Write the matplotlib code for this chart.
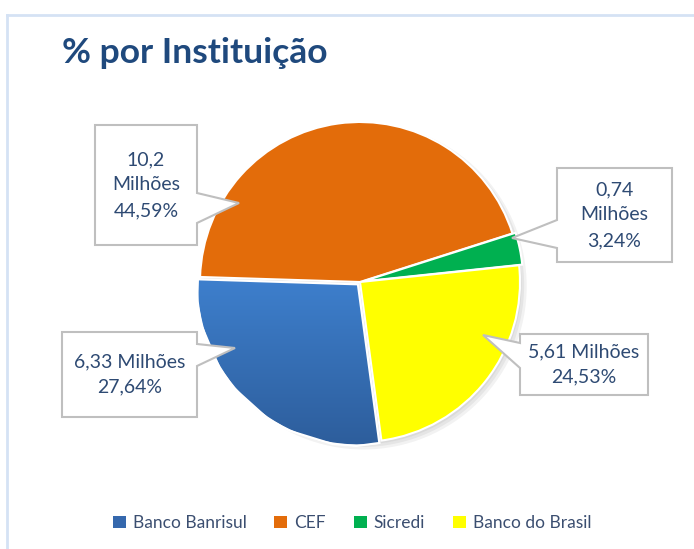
import numpy as np
import matplotlib.pyplot as plt
from matplotlib.patches import Polygon, Patch
from matplotlib.colors import LinearSegmentedColormap

# data
categories = ["Banco Banrisul", "CEF", "Sicredi", "Banco do Brasil"]
percents = [27.64, 44.59, 3.24, 24.53]
values_text = ["6,33 Milhões", "10,2\nMilhões", "0,74\nMilhões", "5,61 Milhões"]
pct_text = ["27,64%", "44,59%", "3,24%", "24,53%"]
colors = ["#3a77c4", "#e36c0a", "#00b050", "#ffff00"]

W, H = 694, 549
CX, CY, R = 360, 282, 160  # pie centre / radius in pixels


def px(x, y):
    # pixel position -> data coords (pie centre at 0,0, radius 1)
    return (x - CX) / R, (CY - y) / R


fig = plt.figure(figsize=(W / 100, H / 100), dpi=100)
ax = fig.add_axes([0, 0, 1, 1])

# soft shadow under the pie
for i in range(3):
    ax.add_patch(plt.Circle((0.01 + i * 0.006, -0.015 - i * 0.006), 1.0 + 0.01 * i,
                            color="black", alpha=0.05, lw=0, zorder=0))

wedges, _ = ax.pie(percents, colors=colors, startangle=-82.3, counterclock=False,
                   explode=[0.02, 0, 0.02, 0], radius=1.0,
                   wedgeprops=dict(edgecolor="white", linewidth=1.5))
for w in wedges:
    w.set_zorder(2)

# vertical gradient on the Banrisul slice
cmap = LinearSegmentedColormap.from_list("blu", ["#2c5b98", "#3f82d1"])
grad = np.linspace(0, 1, 256).reshape(-1, 1)
img = ax.imshow(grad, cmap=cmap, extent=(-1.1, 0.2, -1.1, 0.1), origin="lower",
                aspect="auto", zorder=2.5)
img.set_clip_path(wedges[0])
wedges[0].set_facecolor("none")
ax.add_patch(Polygon(wedges[0].get_path().vertices, closed=True, fill=False,
                     edgecolor="white", lw=1.5, zorder=2.6))

# callout boxes: (x0, y0, x1, y1), pointer side, pointer base (yb0, yb1), tip
boxes = [
    ((62, 332, 197, 417), "right", (344, 366), (235, 348)),
    ((95, 125, 197, 245), "right", (193, 223), (239, 203)),
    ((557, 168, 672, 262), "left", (220, 248), (512, 238)),
    ((520, 334, 648, 395), "left", (343, 368), (483, 335)),
]

for i, (box, side, base, tip) in enumerate(boxes):
    x0, y0, x1, y1 = box
    if side == "right":
        pts = [(x0, y0), (x1, y0), (x1, base[0]), tip, (x1, base[1]), (x1, y1), (x0, y1)]
    else:
        pts = [(x0, y0), (x1, y0), (x1, y1), (x0, y1), (x0, base[1]), tip, (x0, base[0])]
    ax.add_patch(Polygon([px(*p) for p in pts], closed=True, facecolor="white",
                         edgecolor="#bfbfbf", lw=1.5, zorder=4))
    cx, cy = px((x0 + x1) / 2, (y0 + y1) / 2)
    ax.text(cx, cy, values_text[i] + "\n" + pct_text[i], ha="center", va="center",
            fontsize=14, family="Lato", color="#2e4a73", linespacing=1.6, zorder=5)

ax.set_xlim(px(0, 0)[0], px(W, 0)[0])
ax.set_ylim(px(0, H)[1], px(0, 0)[1])
ax.set_aspect("equal")
ax.axis("off")

# outer chart border (top and left visible)
fig.add_artist(plt.Line2D([7 / W, 1], [1 - 15 / H] * 2, color="#d5e2f4", lw=2))
fig.add_artist(plt.Line2D([7 / W] * 2, [0, 1 - 15 / H], color="#d5e2f4", lw=2))

fig.text(62 / W, 1 - 63 / H, "% por Instituição", fontsize=25.5, fontweight="bold",
         family="Lato", color="#1f497d", va="baseline")

handles = [Patch(facecolor=c) for c in ["#3568ad"] + colors[1:]]
fig.legend(handles, categories, loc="center", bbox_to_anchor=(352 / W, 1 - 523 / H),
           ncol=4, frameon=False, prop={"family": "Lato", "size": 12.5},
           labelcolor="#3b4e70", handlelength=0.75, handleheight=0.75,
           handletextpad=0.4, columnspacing=1.6)

fig.savefig("out.png", dpi=100)
